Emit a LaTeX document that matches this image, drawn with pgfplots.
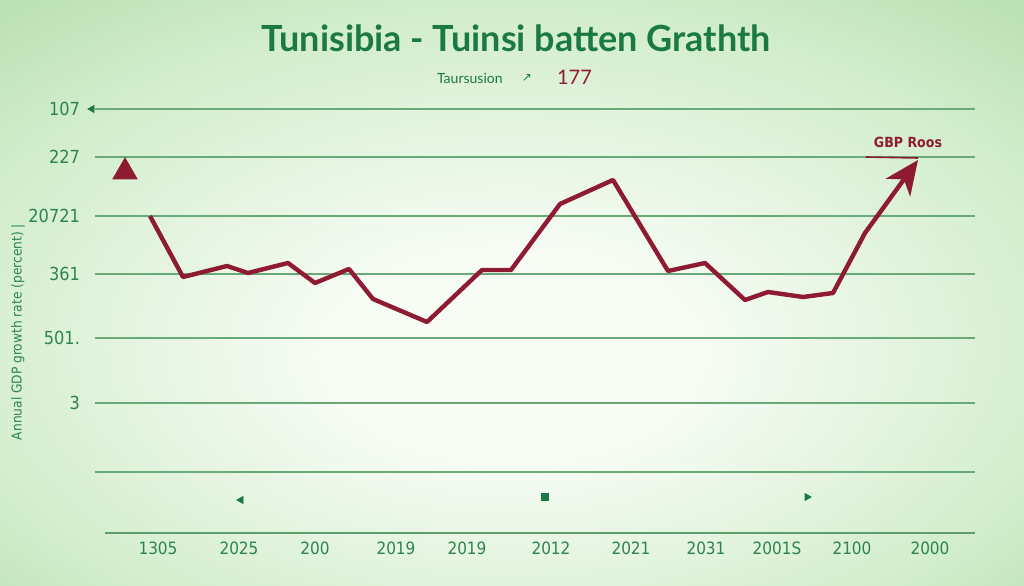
\documentclass[border=0pt]{standalone}
\usepackage{pgfplots}
\pgfplotsset{compat=1.18}
\usepackage{fontspec}
\setmainfont{Lato}
\newfontfamily\condfont{DejaVu Sans Condensed}
\newfontfamily\symfont{DejaVu Sans}
\usetikzlibrary{arrows.meta}
\definecolor{titlegreen}{HTML}{1B7A43}
\definecolor{labgreen}{HTML}{2E8450}
\definecolor{gridgreen}{HTML}{6AAA78}
\definecolor{axisgreen}{HTML}{5E9E6C}
\definecolor{wine}{HTML}{8E1B31}
\definecolor{bgA}{HTML}{F7FCF5}
\definecolor{bgB}{HTML}{D2EDCC}
\definecolor{bgC}{HTML}{9DD393}
\pgfdeclareradialshading{bgshade}{\pgfpoint{0bp}{-6bp}}{color(0bp)=(bgA); color(9bp)=(bgA); color(28bp)=(bgB); color(48bp)=(bgC); color(80bp)=(bgC)}

\begin{document}
\begin{tikzpicture}
\begin{axis}[
  set layers,
  scale only axis, width=440pt, height=212pt,
  xmin=95, xmax=975, ymin=52, ymax=476,
  clip=false,
  axis line style={draw=none},
  major tick length=0pt,
  xtick={158,239,315,396,467,551,631,706,777,852,930},
  xticklabels={1305,2025,200,2019,2019,2012,2021,2031,2001S,2100,2000},
  ytick={113,182,247,311,369,428,476},
  yticklabels={,3,501.,361,20721,227,107},
  ymajorgrids,
  grid style={gridgreen, line width=0.75pt},
  xticklabel style={font=\condfont\fontsize{8.5}{10}\selectfont, text=labgreen, yshift=-1pt},
  yticklabel style={font=\condfont\fontsize{9}{10}\selectfont, text=labgreen, xshift=-4pt},
]
\begin{pgfonlayer}{axis background}
\shade[shading=bgshade] (axis cs:0,0) rectangle (axis cs:1024,585);
\end{pgfonlayer}

\draw[axisgreen, line width=1.3pt] (axis cs:105,52) -- (axis cs:975,52);

\addplot[wine, line width=2.2pt, line join=round, -{Stealth[length=17pt,width=15pt,inset=5pt]}] coordinates {
(150,369) (183,308) (227,319) (248,312) (288,322) (315,302) (349,316) (373,286)
(427,263) (482,315) (511,315) (560,381) (613,405) (668,314) (705,322) (745,285)
(768,293) (803,288) (833,292) (865,352) (918,425)
};
\addplot[wine, line width=0.8pt] coordinates {(866,428) (918,427)};

\addplot[only marks, mark=triangle*, mark size=7pt, wine] coordinates {(125,413)};
\addplot[only marks, mark=triangle*, mark size=2pt, titlegreen, mark options={rotate=90}] coordinates {(241,85) (92,476)};
\addplot[only marks, mark=triangle*, mark size=2pt, titlegreen, mark options={rotate=-90}] coordinates {(807,88)};
\addplot[only marks, mark=square*, mark size=1.8pt, titlegreen] coordinates {(545,88)};

\node[font=\bfseries\fontsize{18}{21}\selectfont, text=titlegreen] at (axis cs:516,547) {Tunisibia - Tuinsi batten Grathth};
\node[font=\fontsize{7}{8}\selectfont, text=titlegreen, anchor=west] at (axis cs:430,507) {Taursusion};
\node[font=\symfont\fontsize{6}{7}\selectfont, text=titlegreen] at (axis cs:527,507) {↗};
\node[font=\fontsize{10}{12}\selectfont, text=wine, anchor=west] at (axis cs:550,508) {177};
\node[font=\condfont\bfseries\fontsize{7}{8}\selectfont, text=wine] at (axis cs:908,443) {GBP Roos};
\node[rotate=90, font=\condfont\fontsize{6.8}{8}\selectfont, text=labgreen] at (axis cs:18,253) {Annual GDP growth rate (percent) |};
\end{axis}
\end{tikzpicture}
\end{document}
